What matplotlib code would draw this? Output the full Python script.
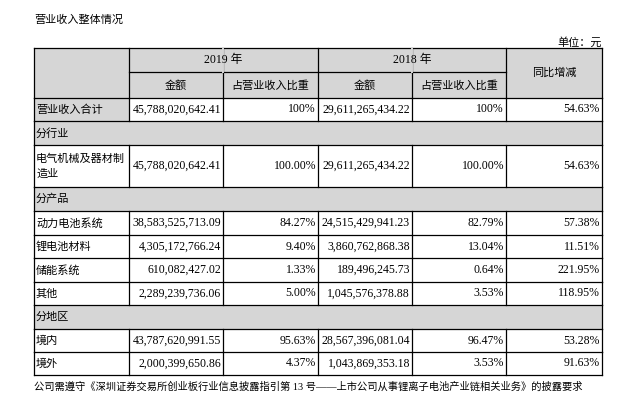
import matplotlib.pyplot as plt
from matplotlib.patches import Rectangle

plt.rcParams["font.family"] = ["Liberation Serif", "Noto Sans CJK SC", "DejaVu Sans"]

title = "营业收入整体情况"
unit = "单位：元"
years = ["2019 年", "2018 年"]
sub_headers = ["金额", "占营业收入比重"]
yoy_header = "同比增减"
footer = "公司需遵守《深圳证券交易所创业板行业信息披露指引第 13 号——上市公司从事锂离子电池产业链相关业务》的披露要求"

# (label, amount 2019, share 2019, amount 2018, share 2018, yoy); None values = section row
rows = [
    ("营业收入合计", "45,788,020,642.41", "100%", "29,611,265,434.22", "100%", "54.63%"),
    ("分行业", None, None, None, None, None),
    ("电气机械及器材制\n造业", "45,788,020,642.41", "100.00%", "29,611,265,434.22", "100.00%", "54.63%"),
    ("分产品", None, None, None, None, None),
    ("动力电池系统", "38,583,525,713.09", "84.27%", "24,515,429,941.23", "82.79%", "57.38%"),
    ("锂电池材料", "4,305,172,766.24", "9.40%", "3,860,762,868.38", "13.04%", "11.51%"),
    ("储能系统", "610,082,427.02", "1.33%", "189,496,245.73", "0.64%", "221.95%"),
    ("其他", "2,289,239,736.06", "5.00%", "1,045,576,378.88", "3.53%", "118.95%"),
    ("分地区", None, None, None, None, None),
    ("境内", "43,787,620,991.55", "95.63%", "28,567,396,081.04", "96.47%", "53.28%"),
    ("境外", "2,000,399,650.86", "4.37%", "1,043,869,353.18", "3.53%", "91.63%"),
]
row_heights = [23, 24, 42, 24, 24, 23, 24, 23, 24, 23, 23]

col_x = [34, 129, 223, 318, 412, 506, 602]
gray = "#d6d6d6"
fs = 8.5
fs_cjk = 8

fig = plt.figure(figsize=(6.4, 4.01), dpi=100)
ax = fig.add_axes([0, 0, 1, 1])
ax.set_xlim(0, 640)
ax.set_ylim(401, 0)
ax.axis("off")

ax.text(34, 20, title, fontsize=fs_cjk, va="center", ha="left")
ax.text(602, 42, unit, fontsize=fs_cjk, va="center", ha="right")

top = 48
h1, h2 = 24, 26
# header background
ax.add_patch(Rectangle((col_x[0], top), col_x[-1] - col_x[0], h1 + h2, color=gray, lw=0))
ax.text((col_x[1] + col_x[3]) / 2, top + h1 / 2, years[0], fontsize=fs, ha="center", va="center")
ax.text((col_x[3] + col_x[5]) / 2, top + h1 / 2, years[1], fontsize=fs, ha="center", va="center")
ax.text((col_x[5] + col_x[6]) / 2, top + (h1 + h2) / 2, yoy_header, fontsize=fs_cjk, ha="center", va="center")
for i in range(4):
    ax.text((col_x[1 + i] + col_x[2 + i]) / 2, top + h1 + h2 / 2, sub_headers[i % 2],
            fontsize=fs_cjk, ha="center", va="center")

lw = 0.9
kw = dict(color="black", lw=lw)
ax.plot([col_x[0], col_x[-1]], [top, top], **kw)
ax.plot([col_x[1], col_x[5]], [top + h1, top + h1], **kw)
for x in col_x:
    ax.plot([x, x], [top, top + h1 + h2], **kw)
ax.plot([col_x[2], col_x[2]], [top, top + h1], color=gray, lw=lw + 0.5)
ax.plot([col_x[4], col_x[4]], [top, top + h1], color=gray, lw=lw + 0.5)

y = top + h1 + h2
ax.plot([col_x[0], col_x[-1]], [y, y], **kw)
for r, h in zip(rows, row_heights):
    label = r[0]
    if r[1] is None:
        ax.add_patch(Rectangle((col_x[0], y), col_x[-1] - col_x[0], h, color=gray, lw=0))
        ax.plot([col_x[0], col_x[0]], [y, y + h], **kw)
        ax.plot([col_x[-1], col_x[-1]], [y, y + h], **kw)
    else:
        if y == top + h1 + h2:
            ax.add_patch(Rectangle((col_x[0], y), col_x[1] - col_x[0], h, color=gray, lw=0))
        for x in col_x:
            ax.plot([x, x], [y, y + h], **kw)
        for i, v in enumerate(r[1:]):
            ax.text(col_x[i + 2] - 2, y + h / 2, v, fontsize=fs, ha="right", va="center")
    ax.text(col_x[0] + 2, y + h / 2, label, fontsize=fs_cjk, ha="left", va="center", linespacing=1.6)
    y += h
    ax.plot([col_x[0], col_x[-1]], [y, y], **kw)

ax.text(34, y + 12, footer, fontsize=7.4, ha="left", va="center")

fig.savefig("out.png", dpi=100)
